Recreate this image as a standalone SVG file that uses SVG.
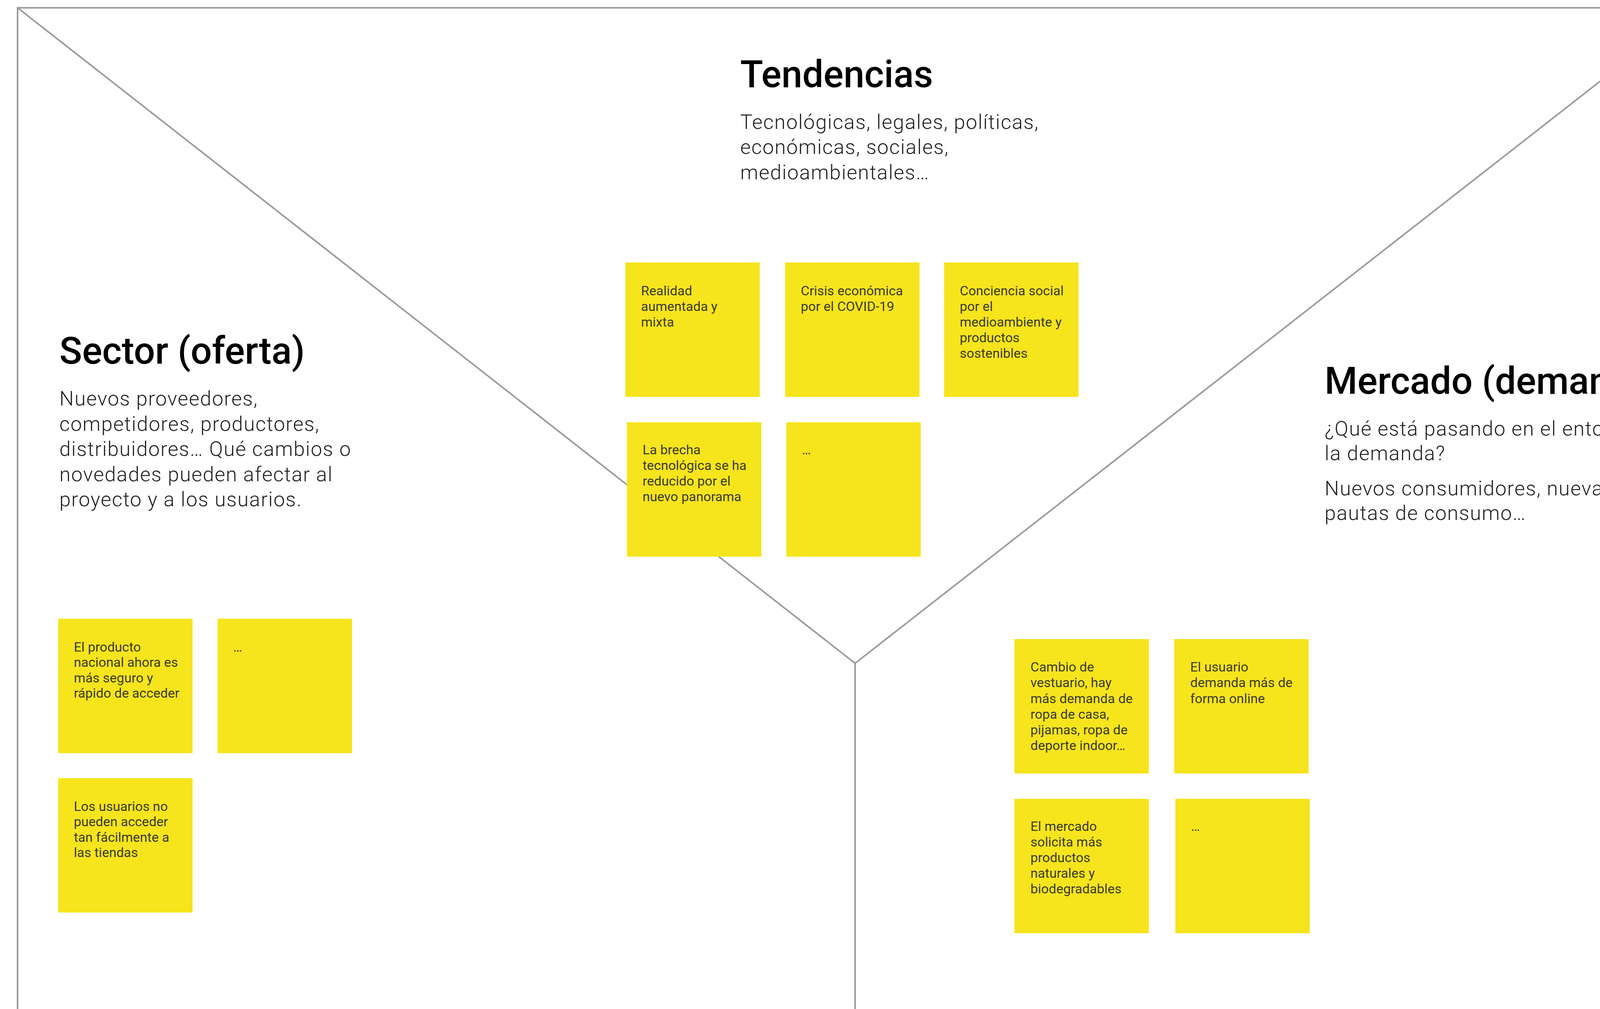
<svg xmlns="http://www.w3.org/2000/svg" width="4352" height="2583" viewBox="0 0 4352 2583">
<style>
.line{stroke:#9a9a9a;stroke-width:4;fill:none}
.title{font-family:Roboto,"Liberation Sans",sans-serif;font-weight:500;font-size:96px;fill:#000}
.body{font-family:Roboto,"Liberation Sans",sans-serif;font-weight:300;font-size:52px;letter-spacing:1.7px;fill:#222}
.sticky rect{fill:#F6E41D}
.sticky text{font-family:Roboto,"Liberation Sans",sans-serif;font-weight:400;font-size:34px;fill:#3a3a2a}
</style>
<rect width="4352" height="2583" fill="#fff"/>
<g id="connectors">
<path class="line" d="M45 2583 V20 H4337 V2583"/>
<line class="line" x1="45" y1="20" x2="2189" y2="1698"/>
<line class="line" x1="4337" y1="20" x2="2189" y2="1698"/>
<line class="line" x1="2189" y1="1698" x2="2189" y2="2583"/>
</g>
<g id="tendencias-header">
<text class="title" x="1895" y="223">Tendencias</text>
<text class="body" x="1895" y="330">Tecnológicas, legales, políticas,</text>
<text class="body" x="1895" y="394">económicas, sociales,</text>
<text class="body" x="1895" y="459">medioambientales…</text>
</g>
<g id="sector-header">
<text class="title" x="152" y="931">Sector (oferta)</text>
<text class="body" x="152" y="1038">Nuevos proveedores,</text>
<text class="body" x="152" y="1103">competidores, productores,</text>
<text class="body" x="152" y="1167">distribuidores… Qué cambios o</text>
<text class="body" x="152" y="1232">novedades pueden afectar al</text>
<text class="body" x="152" y="1296">proyecto y a los usuarios.</text>
</g>
<g id="mercado-header">
<text class="title" x="3391" y="1008">Mercado (demanda)</text>
<text class="body" x="3391" y="1115">¿Qué está pasando en el entorno de</text>
<text class="body" x="3391" y="1178">la demanda?</text>
<text class="body" x="3391" y="1268">Nuevos consumidores, nuevas</text>
<text class="body" x="3391" y="1331">pautas de consumo…</text>
</g>
<g id="t1" class="sticky"><rect x="1601" y="672" width="344" height="344"/>
<text x="1641" y="756">Realidad</text><text x="1641" y="796">aumentada y</text><text x="1641" y="836">mixta</text></g>
<g id="t2" class="sticky"><rect x="2010" y="672" width="344" height="344"/>
<text x="2050" y="756">Crisis económica</text><text x="2050" y="796">por el COVID-19</text></g>
<g id="t3" class="sticky"><rect x="2417" y="672" width="344" height="344"/>
<text x="2457" y="756">Conciencia social</text><text x="2457" y="796">por el</text><text x="2457" y="836">medioambiente y</text><text x="2457" y="876">productos</text><text x="2457" y="916">sostenibles</text></g>
<g id="t4" class="sticky"><rect x="1605" y="1081" width="344" height="344"/>
<text x="1645" y="1163">La brecha</text><text x="1645" y="1203">tecnológica se ha</text><text x="1645" y="1243">reducido por el</text><text x="1645" y="1283">nuevo panorama</text></g>
<g id="t5" class="sticky"><rect x="2013" y="1081" width="344" height="344"/>
<text x="2053" y="1163">…</text></g>
<g id="s1" class="sticky"><rect x="149" y="1584" width="344" height="344"/>
<text x="189" y="1668">El producto</text><text x="189" y="1707">nacional ahora es</text><text x="189" y="1747">más seguro y</text><text x="189" y="1786">rápido de acceder</text></g>
<g id="s2" class="sticky"><rect x="557" y="1584" width="344" height="344"/>
<text x="597" y="1668">…</text></g>
<g id="s3" class="sticky"><rect x="149" y="1992" width="344" height="344"/>
<text x="189" y="2076">Los usuarios no</text><text x="189" y="2115">pueden acceder</text><text x="189" y="2155">tan fácilmente a</text><text x="189" y="2194">las tiendas</text></g>
<g id="m1" class="sticky"><rect x="2597" y="1636" width="344" height="344"/>
<text x="2638" y="1719">Cambio de</text><text x="2638" y="1759">vestuario, hay</text><text x="2638" y="1800">más demanda de</text><text x="2638" y="1840">ropa de casa,</text><text x="2638" y="1880">pijamas, ropa de</text><text x="2638" y="1920">deporte indoor…</text></g>
<g id="m2" class="sticky"><rect x="3006" y="1636" width="344" height="344"/>
<text x="3047" y="1719">El usuario</text><text x="3047" y="1759">demanda más de</text><text x="3047" y="1800">forma online</text></g>
<g id="m3" class="sticky"><rect x="2597" y="2045" width="344" height="344"/>
<text x="2638" y="2127">El mercado</text><text x="2638" y="2167">solicita más</text><text x="2638" y="2207">productos</text><text x="2638" y="2247">naturales y</text><text x="2638" y="2287">biodegradables</text></g>
<g id="m4" class="sticky"><rect x="3009" y="2045" width="344" height="344"/>
<text x="3049" y="2127">…</text></g>
</svg>
